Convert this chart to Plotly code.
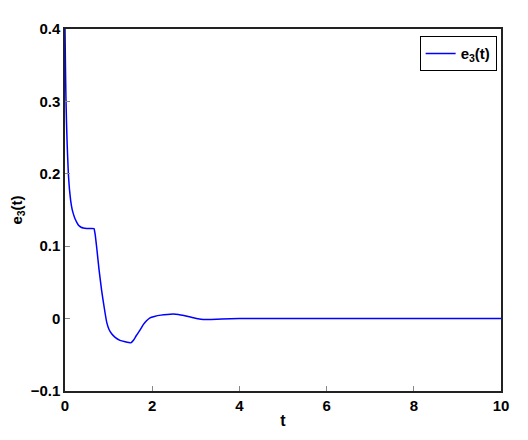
import plotly.graph_objects as go

# values
t = [0, 0.01, 0.02, 0.035, 0.05, 0.077, 0.1, 0.13, 0.16, 0.19, 0.23, 0.27, 0.31, 0.36,
     0.42, 0.5, 0.6, 0.665, 0.69, 0.73, 0.78, 0.84, 0.9, 0.96, 1.01, 1.07, 1.15, 1.26,
     1.38, 1.51, 1.57, 1.64, 1.72, 1.8, 1.87, 1.95, 2.05, 2.2, 2.35, 2.48, 2.6, 2.75,
     2.9, 3.05, 3.17, 3.35, 3.6, 4.0, 5.0, 6.0, 7.0, 8.0, 9.0, 10.0]
e3 = [0.4, 0.35, 0.31, 0.27, 0.24, 0.2, 0.18, 0.163, 0.152, 0.145, 0.138, 0.133, 0.129, 0.1265,
      0.125, 0.1245, 0.1245, 0.1243, 0.117, 0.0965, 0.068, 0.039, 0.015, -0.006, -0.015, -0.021, -0.026, -0.030,
      -0.032, -0.0335, -0.030, -0.023, -0.016, -0.008, -0.003, 0.001, 0.003, 0.0048,
      0.0058, 0.0062, 0.0058, 0.004, 0.002, -0.0002, -0.0012, -0.0012, -0.0006, 0.0, 0.0, 0.0, 0.0, 0.0, 0.0, 0.0]

x_ticks = [0, 2, 4, 6, 8, 10]
y_ticks = [-0.1, 0, 0.1, 0.2, 0.3, 0.4]
y_labels = ["\u22120.1", "0", "0.1", "0.2", "0.3", "0.4"]

font = "Liberation Sans Narrow, Arial Narrow, Liberation Sans, sans-serif"

fig = go.Figure()
fig.add_trace(go.Scatter(x=t, y=e3, mode="lines", name="e<sub>3</sub>(t)",
                         line=dict(color="#0000ff", width=1.5, shape="spline", smoothing=0.3)))

axis_style = dict(showgrid=False, zeroline=False, showline=True, linecolor="#222",
                  linewidth=1.5, mirror=True, ticks="inside", ticklen=5,
                  tickcolor="#888", tickwidth=1, automargin=False)

# the page body adds an 8px offset, so margins are shifted to compensate
fig.update_layout(
    width=528, height=440,
    margin=dict(l=57, r=35, t=21, b=57),
    plot_bgcolor="white", paper_bgcolor="white",
    font=dict(family=font, size=15, color="black", weight="bold"),
    showlegend=True,
    legend=dict(x=0.99, y=0.98, xanchor="right", yanchor="top",
                bordercolor="black", borderwidth=1, bgcolor="white",
                font=dict(size=15, weight="bold")),
    xaxis=dict(range=[0, 10], tickvals=x_ticks,
               title=dict(text="t", standoff=2, font=dict(size=16, weight="bold")),
               **axis_style),
    yaxis=dict(range=[-0.1, 0.4], tickvals=y_ticks, ticktext=y_labels,
               title=dict(text="e<sub>3</sub>(t)", standoff=12, font=dict(size=15, weight="bold")),
               **axis_style),
)

fig.write_html("out.html")
